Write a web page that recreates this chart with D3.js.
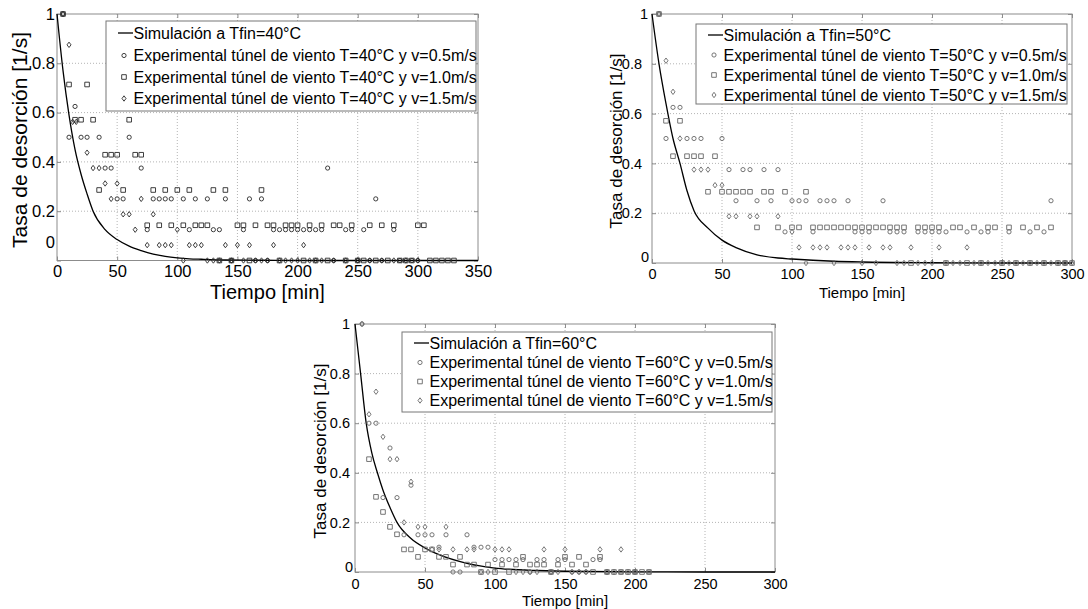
<!DOCTYPE html>
<html>
<head>
<meta charset="utf-8">
<script src="https://cdn.jsdelivr.net/npm/d3@7"></script>
<style>
  body { margin: 0; background: #fff; }
  svg { font-family: "Liberation Sans", Arial, sans-serif; }
</style>
</head>
<body>
<script>
// ejes
var yTicks = [0, 0.2, 0.4, 0.6, 0.8, 1];
var xTicks40 = [0, 50, 100, 150, 200, 250, 300, 350];
var xTicks5060 = [0, 50, 100, 150, 200, 250, 300];

var legend40 = ["Simulación a Tfin=40°C",
  "Experimental túnel de viento T=40°C y v=0.5m/s",
  "Experimental túnel de viento T=40°C y v=1.0m/s",
  "Experimental túnel de viento T=40°C y v=1.5m/s"];
var legend50 = ["Simulación a Tfin=50°C",
  "Experimental túnel de viento T=50°C y v=0.5m/s",
  "Experimental túnel de viento T=50°C y v=1.0m/s",
  "Experimental túnel de viento T=50°C y v=1.5m/s"];
var legend60 = ["Simulación a Tfin=60°C",
  "Experimental túnel de viento T=60°C y v=0.5m/s",
  "Experimental túnel de viento T=60°C y v=1.0m/s",
  "Experimental túnel de viento T=60°C y v=1.5m/s"];

// simulacion [tiempo, tasa]
var sim40 = [[0,1],[5,0.77],[10,0.59],[15,0.45],[20,0.35],[25,0.27],[30,0.2],[40,0.125],[50,0.085],
  [60,0.058],[70,0.04],[80,0.026],[90,0.017],[100,0.011],[110,0.007],[120,0.005],[140,0.002],[170,0.001],[200,0],[350,0]];
var sim50 = [[0,1],[5,0.8],[10,0.64],[15,0.5],[20,0.4],[25,0.29],[30,0.21],[40,0.14],[50,0.092],[60,0.062],
  [75,0.033],[90,0.02],[100,0.016],[115,0.011],[130,0.007],[150,0.004],[200,0.001],[250,0],[300,0]];
var sim60 = [[0,1],[4,0.8],[8,0.6],[12,0.48],[16,0.4],[20,0.33],[25,0.26],[30,0.2],[40,0.135],[50,0.097],
  [60,0.07],[80,0.035],[100,0.016],[110,0.011],[130,0.006],[150,0.003],[200,0.0005],[250,0],[300,0]];

// experimental T=40
var exp40v05 = [[5,1],[10,0.5],[15,0.625],[20,0.5],[25,0.5],[35,0.5],[40,0.375],[45,0.375],[50,0.25],[55,0.25],
  [60,0.5],[70,0.375],[75,0.125],[80,0.25],[85,0.25],[90,0.25],[95,0.25],[105,0.25],[110,0.125],[115,0.25],
  [125,0.25],[130,0.125],[135,0.125],[140,0.25],[145,0],[155,0.125],[160,0.25],[165,0],[170,0.25],[175,0],
  [180,0.125],[185,0.125],[190,0.125],[195,0.125],[200,0.125],[205,0.125],[210,0.125],[215,0.125],[220,0.125],
  [225,0.375],[230,0],[240,0.125],[245,0.125],[250,0],[255,0.125],[260,0],[265,0.25],[270,0],[280,0.125],
  [285,0],[295,0],[300,0]];
var exp40v10 = [[5,1],[10,0.714],[15,0.571],[20,0.571],[25,0.714],[30,0.571],[35,0.286],[40,0.429],[45,0.429],
  [50,0.429],[55,0.286],[60,0.571],[65,0.429],[70,0.429],[75,0.143],[80,0.286],[85,0.143],[90,0.286],[95,0.143],
  [100,0.286],[105,0.143],[110,0.286],[115,0.143],[120,0.143],[125,0.143],[130,0.286],[135,0],[140,0.286],
  [145,0],[150,0.143],[155,0.143],[160,0],[165,0.143],[170,0.286],[175,0.143],[180,0.143],[185,0],[190,0.143],
  [195,0.143],[200,0.143],[205,0],[210,0.143],[215,0],[220,0.143],[225,0],[230,0.143],[235,0.143],[240,0],
  [245,0.143],[250,0],[255,0],[260,0.143],[265,0],[270,0.143],[275,0],[280,0.143],[285,0],[290,0],[295,0],
  [300,0.143],[305,0.143],[310,0],[315,0],[320,0],[325,0],[330,0]];
var exp40v15 = [[5,1],[10,0.875],[13,0.5625],[16,0.5625],[25,0.4375],[30,0.375],[35,0.375],[40,0.3125],
  [45,0.25],[50,0.3125],[55,0.1875],[60,0.1875],[65,0.125],[70,0.25],[75,0.0625],[80,0.1875],[85,0.0625],
  [90,0.0625],[95,0.0625],[100,0.125],[105,0],[110,0.0625],[115,0.0625],[120,0.0625],[125,0],[130,0],[135,0],
  [140,0.0625],[145,0],[150,0.0625],[155,0],[160,0.0625],[165,0],[170,0],[175,0],[180,0.0625],[185,0],[190,0],
  [195,0],[200,0],[205,0.0625],[210,0],[215,0],[220,0],[230,0],[240,0],[250,0],[260,0],[270,0],[280,0],
  [290,0],[300,0]];

// experimental T=50
var exp50v05 = [[5,1],[10,0.5],[15,0.625],[20,0.625],[25,0.5],[30,0.5],[35,0.5],[50,0.5],[55,0.375],[60,0.25],
  [65,0.375],[70,0.375],[75,0.25],[80,0.375],[85,0.25],[90,0.375],[95,0.125],[100,0.25],[105,0.25],[110,0.25],
  [115,0.125],[120,0.25],[125,0.25],[130,0.25],[140,0.25],[145,0.125],[150,0.125],[155,0.125],[165,0.25],
  [170,0.125],[175,0.125],[180,0.125],[190,0.125],[195,0.125],[200,0.125],[205,0.125],[210,0.125],[225,0.125],
  [235,0.125],[240,0.125],[255,0.125],[270,0.125],[280,0.125],[285,0.25],[295,0]];
var exp50v10 = [[5,1],[10,0.571],[15,0.429],[20,0.571],[25,0.429],[30,0.429],[35,0.429],[40,0.286],[45,0.429],
  [50,0.286],[55,0.286],[60,0.286],[65,0.286],[70,0.286],[75,0.143],[80,0.286],[85,0.286],[90,0.143],
  [95,0.286],[100,0.143],[105,0.143],[110,0.286],[115,0.143],[120,0.143],[125,0.143],[130,0.143],[135,0.143],
  [140,0.143],[145,0.143],[150,0.143],[155,0.143],[160,0.143],[165,0.143],[170,0.143],[175,0.143],[180,0.143],
  [185,0],[190,0.143],[195,0.143],[200,0.143],[205,0.143],[210,0],[215,0.143],[220,0.143],[225,0],[230,0.143],
  [235,0],[240,0.143],[245,0.143],[250,0],[255,0.143],[260,0],[265,0.143],[270,0],[275,0.143],[280,0],
  [285,0.143],[290,0],[295,0],[300,0]];
var exp50v15 = [[5,1],[10,0.8125],[15,0.6875],[20,0.5],[30,0.375],[35,0.375],[40,0.375],[45,0.3125],[50,0.3125],
  [55,0.1875],[60,0.1875],[70,0.1875],[75,0.1875],[90,0.1875],[100,0.125],[105,0.0625],[110,0],[115,0.0625],
  [120,0.0625],[125,0.0625],[130,0],[135,0.0625],[140,0.0625],[145,0.0625],[150,0],[155,0.0625],[160,0],
  [165,0.0625],[170,0.0625],[175,0],[180,0],[185,0.0625],[190,0],[195,0],[200,0],[205,0.0625],[210,0],[215,0],
  [220,0],[225,0.0625],[230,0],[235,0],[240,0],[245,0],[250,0],[255,0],[260,0],[265,0],[270,0],[275,0],
  [280,0],[285,0],[290,0],[295,0],[300,0]];

// experimental T=60
var exp60v05 = [[5,1],[10,0.6],[15,0.6],[20,0.3],[25,0.5],[30,0.3],[35,0.15],[40,0.35],[45,0.15],[50,0.15],
  [55,0.15],[60,0.1],[65,0.15],[70,0],[75,0],[80,0.15],[85,0.1],[90,0.1],[95,0.1],[100,0.05],[105,0.05],
  [110,0.05],[115,0.05],[120,0.05],[125,0],[130,0.05],[135,0.05],[140,0],[145,0.05],[150,0.05],[155,0],
  [160,0],[165,0],[170,0.05],[175,0.05],[180,0],[190,0],[200,0],[210,0]];
var exp60v10 = [[10,0.455],[15,0.303],[20,0.242],[25,0.182],[30,0.152],[35,0.091],[40,0.091],[45,0.061],
  [50,0.091],[55,0.091],[60,0.061],[65,0.061],[70,0.03],[75,0.061],[80,0.03],[85,0.03],[90,0],[95,0.03],
  [100,0],[105,0.03],[110,0],[115,0.03],[120,0.061],[125,0.03],[130,0.03],[135,0.03],[140,0],[145,0.03],
  [150,0.061],[155,0.03],[160,0.061],[165,0.03],[170,0],[175,0.061],[180,0],[185,0],[190,0],[195,0],
  [200,0],[205,0],[210,0]];
var exp60v15 = [[5,1],[10,0.636],[15,0.727],[20,0.545],[25,0.455],[30,0.455],[35,0.2],[40,0.364],[45,0.182],
  [50,0.182],[55,0.091],[60,0.091],[65,0.182],[70,0.091],[80,0.091],[85,0.091],[90,0],[95,0],[100,0.091],
  [105,0.091],[110,0.091],[115,0],[120,0],[125,0],[130,0],[135,0.091],[140,0],[145,0],[150,0.091],[155,0],
  [160,0],[165,0],[175,0.091],[180,0],[185,0],[190,0.091],[195,0],[200,0]];

var W = 1088, H = 609;
var svg = d3.select("body").append("svg").attr("width", W).attr("height", H);

var panels = [
  {sim: sim40, series: [exp40v05, exp40v10, exp40v15], labels: legend40, xTicks: xTicks40, xMax: 350,
   left: 57, right: 478, top: 14, bottom: 260.5, tickFont: 16.5, xPad: 5, yPad: 2, onePad: 2, zeroPad: 2, zeroShift: -18,
   yLabelFont: 21, yLabelX: 20, yLabelY: 140, xLabelFont: 20, xLabelY: 299, mark: "#2a2a2a",
   leg: {x: 106, y: 21, w: 370, h: 90, rows: [33, 55.5, 77, 98.5]}},
  {sim: sim50, series: [exp50v05, exp50v10, exp50v15], labels: legend50, xTicks: xTicks5060, xMax: 300,
   left: 652, right: 1072, top: 14, bottom: 263, tickFont: 14.5, xPad: 5.7, yPad: 10, onePad: 4, zeroPad: 3, zeroShift: -6,
   yLabelFont: 17, yLabelX: 616, yLabelY: 141, xLabelFont: 15, xLabelY: 297.5, mark: "#666",
   leg: {x: 696, y: 24, w: 371, h: 80, rows: [35, 55, 75, 95]}},
  {sim: sim60, series: [exp60v05, exp60v10, exp60v15], labels: legend60, xTicks: xTicks5060, xMax: 300,
   left: 355, right: 775, top: 324, bottom: 572, tickFont: 14.5, xPad: 6.7, yPad: 5, onePad: 5, zeroPad: 2, zeroShift: -5,
   yLabelFont: 17, yLabelX: 320, yLabelY: 451, xLabelFont: 15, xLabelY: 606, mark: "#666",
   leg: {x: 402, y: 332, w: 370, h: 80, rows: [343, 362.5, 381.5, 400.5]}}
];

// marcadores tipo matlab
function markerPath(kind, cx, cy) {
  if (kind === 0) {
    var r = 2.1;
    return "M" + (cx - r) + "," + cy + "a" + r + "," + r + " 0 1,0 " + (2 * r) + ",0a" + r + "," + r + " 0 1,0 " + (-2 * r) + ",0Z";
  } else if (kind === 1) {
    var s = 2.3;
    return "M" + (cx - s) + "," + (cy - s) + "h" + (2 * s) + "v" + (2 * s) + "h" + (-2 * s) + "Z";
  }
  var w = 2, h = 2.7;
  return "M" + cx + "," + (cy - h) + "L" + (cx + w) + "," + cy + "L" + cx + "," + (cy + h) + "L" + (cx - w) + "," + cy + "Z";
}

panels.forEach(function(p) {
  var x = d3.scaleLinear().domain([0, p.xMax]).range([p.left, p.right]);
  var y = d3.scaleLinear().domain([0, 1]).range([p.bottom, p.top]);
  var g = svg.append("g");

  // rejilla punteada
  g.selectAll(".gx").data(p.xTicks.slice(1, -1)).enter().append("line")
    .attr("x1", function(d) { return x(d); }).attr("x2", function(d) { return x(d); })
    .attr("y1", p.top).attr("y2", p.bottom)
    .attr("stroke", "#b4b4b4").attr("stroke-width", 1).attr("stroke-dasharray", "1,2");
  g.selectAll(".gy").data(yTicks.slice(1, -1)).enter().append("line")
    .attr("y1", function(d) { return y(d); }).attr("y2", function(d) { return y(d); })
    .attr("x1", p.left).attr("x2", p.right)
    .attr("stroke", "#b4b4b4").attr("stroke-width", 1).attr("stroke-dasharray", "1,2");

  // ejes
  g.append("g").attr("transform", "translate(0," + p.bottom + ")")
    .call(d3.axisBottom(x).tickValues(p.xTicks).tickSizeInner(-4).tickSizeOuter(0).tickPadding(p.xPad));
  g.append("g").attr("transform", "translate(0," + p.top + ")")
    .call(d3.axisTop(x).tickValues(p.xTicks).tickSizeInner(-4).tickSizeOuter(0).tickFormat(""));
  var yl = g.append("g").attr("transform", "translate(" + p.left + ",0)")
    .call(d3.axisLeft(y).tickValues(yTicks).tickSizeInner(-4).tickSizeOuter(0).tickPadding(p.yPad).tickFormat(d3.format("~g")));
  g.append("g").attr("transform", "translate(" + p.right + ",0)")
    .call(d3.axisRight(y).tickValues(yTicks).tickSizeInner(-4).tickSizeOuter(0).tickFormat(""));

  g.selectAll(".domain").remove();
  g.selectAll(".tick line").attr("stroke", "#8c8c8c");
  g.selectAll(".tick text").attr("fill", "#000").style("font-size", p.tickFont + "px")
    .style("font-family", "'Liberation Sans', Arial, sans-serif");
  yl.selectAll(".tick text").filter(function(d) { return d === 0; })
    .attr("x", -p.zeroPad).attr("y", p.zeroShift);
  yl.selectAll(".tick text").filter(function(d) { return d === 1; })
    .attr("x", -p.onePad);

  g.append("rect").attr("x", p.left).attr("y", p.top)
    .attr("width", p.right - p.left).attr("height", p.bottom - p.top)
    .attr("fill", "none").attr("stroke", "#8c8c8c").attr("stroke-width", 1);

  // curva simulada
  var line = d3.line().x(function(d) { return x(d[0]); }).y(function(d) { return y(d[1]); })
    .curve(d3.curveMonotoneX);
  g.append("path").datum(p.sim).attr("d", line)
    .attr("fill", "none").attr("stroke", "#000").attr("stroke-width", 1.3);

  // puntos experimentales
  p.series.forEach(function(s, k) {
    g.selectAll(".m" + k).data(s).enter().append("path")
      .attr("d", function(d) { return markerPath(k, x(d[0]), y(d[1])); })
      .attr("fill", "none").attr("stroke", p.mark).attr("stroke-width", 0.9);
  });

  // leyenda
  var lg = g.append("g");
  lg.append("rect").attr("x", p.leg.x).attr("y", p.leg.y).attr("width", p.leg.w).attr("height", p.leg.h)
    .attr("fill", "#fff").attr("stroke", "#777").attr("stroke-width", 1);
  lg.append("line").attr("x1", p.leg.x + 12).attr("x2", p.leg.x + 27)
    .attr("y1", p.leg.rows[0]).attr("y2", p.leg.rows[0]).attr("stroke", "#000").attr("stroke-width", 1.3);
  [0, 1, 2].forEach(function(k) {
    lg.append("path").attr("d", markerPath(k, p.leg.x + 18, p.leg.rows[k + 1]))
      .attr("fill", "none").attr("stroke", p.mark).attr("stroke-width", 0.9);
  });
  lg.selectAll("text").data(p.labels).enter().append("text")
    .attr("x", p.leg.x + 27.5).attr("y", function(d, i) { return p.leg.rows[i]; })
    .attr("dy", "0.36em").style("font-size", "16px").text(function(d) { return d; });

  // titulos de ejes
  g.append("text").attr("transform", "translate(" + p.yLabelX + "," + p.yLabelY + ") rotate(-90)")
    .attr("text-anchor", "middle").attr("dy", "0.35em").style("font-size", p.yLabelFont + "px")
    .text("Tasa de desorción [1/s]");
  g.append("text").attr("x", (p.left + p.right) / 2).attr("y", p.xLabelY)
    .attr("text-anchor", "middle").style("font-size", p.xLabelFont + "px")
    .text("Tiempo [min]");
});
</script>
</body>
</html>
